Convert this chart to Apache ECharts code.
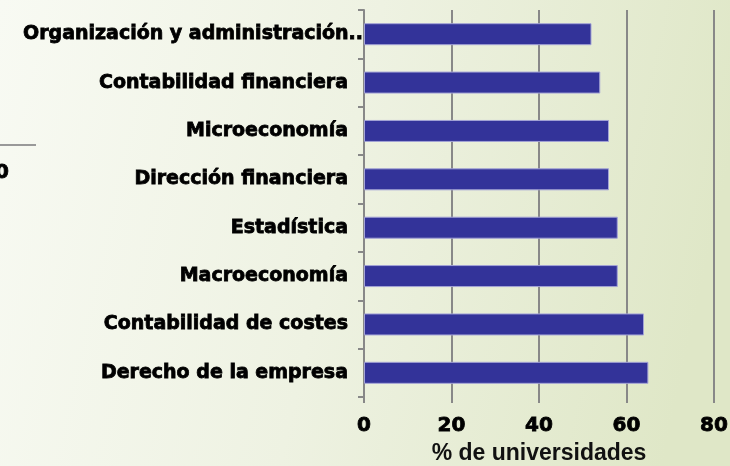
<!DOCTYPE html>
<html>
<head>
<meta charset="utf-8">
<script src="https://cdn.jsdelivr.net/npm/echarts@6/dist/echarts.min.js"></script>
<style>html,body{margin:0;padding:0;}#c{width:730px;height:466px;}</style>
</head>
<body>
<div id="c"></div>
<script>
var categories = ['Organización y administración..', 'Contabilidad financiera', 'Microeconomía', 'Dirección financiera', 'Estadística', 'Macroeconomía', 'Contabilidad de costes', 'Derecho de la empresa'];
var values = [52, 54, 56, 56, 58, 58, 64, 65];
var xTicks = [0, 20, 40, 60, 80];
var axisName = '% de universidades';

var catData = categories.map(function (c, i) {
  return i === 0 ? {value: c, textStyle: {padding: [8, -15, 0, 0]}} : c;
});

var chart = echarts.init(document.getElementById('c'));
chart.setOption({
  animation: false,
  backgroundColor: new echarts.graphic.LinearGradient(0, 0, 1, 0.35, [
    {offset: 0, color: '#f8faf3'},
    {offset: 0.5, color: '#eef2e2'},
    {offset: 1, color: '#dfe7c7'}
  ]),
  graphic: [
    {type: 'line', shape: {x1: 0, y1: 145, x2: 36, y2: 145}, style: {stroke: '#999999', lineWidth: 2}},
    {type: 'text', x: -5, y: 163, style: {text: '0', font: 'bold 20px "DejaVu Sans"', fill: '#000', stroke: '#000', lineWidth: 0.8}}
  ],
  grid: {left: 364, right: 16, top: 10, bottom: 69, outerBoundsMode: 'none', containLabel: false},
  xAxis: {
    type: 'value',
    min: xTicks[0],
    max: xTicks[xTicks.length - 1],
    interval: 20,
    name: axisName,
    nameLocation: 'middle',
    nameGap: 45,
    nameTextStyle: {fontFamily: 'Arial', fontWeight: 'bold', fontSize: 23, color: '#111'},
    axisLine: {show: false},
    axisTick: {show: true, length: 6, lineStyle: {color: '#888', width: 2}},
    axisLabel: {margin: 19, fontFamily: 'DejaVu Sans', fontWeight: 'bold', fontSize: 20, color: '#000', textBorderColor: '#000', textBorderWidth: 0.8},
    splitLine: {show: true, lineStyle: {color: '#888', width: 2}}
  },
  yAxis: {
    type: 'category',
    data: catData,
    inverse: true,
    axisLine: {show: true, lineStyle: {color: '#888', width: 2}},
    axisTick: {show: true, length: 6, lineStyle: {color: '#888', width: 2}},
    axisLabel: {margin: 16, padding: [8, 0, 0, 0], fontFamily: 'DejaVu Sans', fontWeight: 'bold', fontSize: 19, color: '#000', textBorderColor: '#000', textBorderWidth: 0.8}
  },
  series: [{
    type: 'bar',
    data: values,
    barWidth: 22,
    itemStyle: {color: '#333399', borderColor: '#a3a3d6', borderWidth: 1}
  }]
});
</script>
</body>
</html>
